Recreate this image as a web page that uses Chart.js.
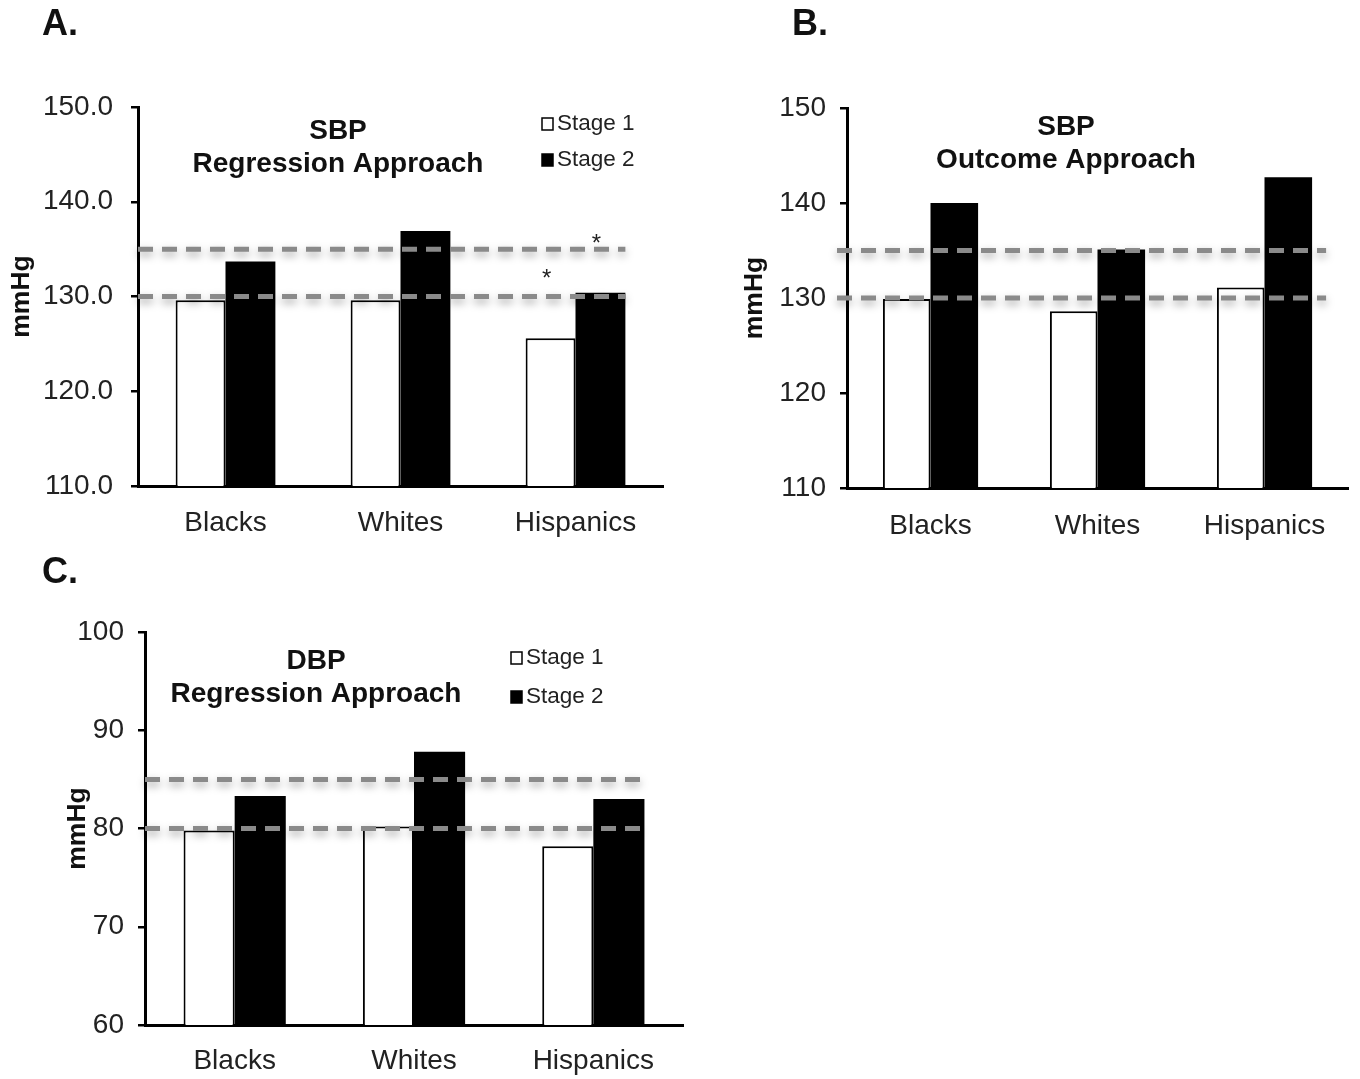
<!DOCTYPE html>
<html>
<head>
<meta charset="utf-8">
<title>Blood pressure by race and stage</title>
<script src="https://cdn.jsdelivr.net/npm/chart.js@4.4.1/dist/chart.umd.min.js"></script>
<style>
  body { margin: 0; background: #fff; }
  #page { position: relative; width: 1360px; height: 1079px; overflow: hidden; }
  canvas { position: absolute; }
</style>
</head>
<body>
<div id="page">
  <canvas id="panel-a" width="680" height="550" style="left:0;top:0"></canvas>
  <canvas id="panel-b" width="660" height="550" style="left:700px;top:0"></canvas>
  <canvas id="panel-c" width="700" height="529" style="left:0;top:550px"></canvas>
</div>
<script>
// Data
const categories = ["Blacks", "Whites", "Hispanics"]
const seriesNames = ["Stage 1", "Stage 2"]

const sbpRegressionStage1 = [129.6, 129.6, 125.6]
const sbpRegressionStage2 = [133.7, 136.9, 130.4]
const sbpRegressionStars1 = [null, null, 132.2]
const sbpRegressionStars2 = [null, null, 135.9]

const sbpOutcomeStage1 = [129.9, 128.6, 131.1]
const sbpOutcomeStage2 = [140.0, 135.1, 142.7]

const dbpRegressionStage1 = [79.8, 80.2, 78.2]
const dbpRegressionStage2 = [83.3, 87.8, 83.0]

const sbpTicks = [110, 120, 130, 140, 150]
const dbpTicks = [60, 70, 80, 90, 100]
const sbpThresholds = [130, 135]
const dbpThresholds = [80, 85]

const FONT = "'Liberation Sans', Arial, Helvetica, sans-serif"

// Draws the panel letter, title, legend, axis title, threshold lines and asterisks
const panelDecor = {
  id: "panelDecor",
  afterDatasetsDraw(chart, args, o) {
    const ctx = chart.ctx
    const area = chart.chartArea
    const y = chart.scales.y
    const barMeta = chart.getDatasetMeta(1)
    const lastBar = barMeta.data[barMeta.data.length - 1]
    const lineEnd = lastBar.x + lastBar.width / 2 + o.lineExtra

    // Dashed reference lines with a soft shadow
    ctx.save()
    ctx.strokeStyle = "#8a8a8a"
    ctx.lineWidth = 5
    ctx.setLineDash([15, 9])
    ctx.shadowColor = "rgba(0, 0, 0, 0.35)"
    ctx.shadowBlur = 8
    ctx.shadowOffsetY = 4
    o.thresholds.forEach((value) => {
      const py = y.getPixelForValue(value)
      ctx.beginPath()
      ctx.moveTo(area.left - o.lineStart, py)
      ctx.lineTo(lineEnd, py)
      ctx.stroke()
    })
    ctx.restore()

    // Asterisks above bars
    ctx.save()
    ctx.fillStyle = "#222"
    ctx.font = "24px " + FONT
    ctx.textAlign = "center"
    ctx.textBaseline = "middle"
    ;(o.stars || []).forEach((stars, dsIndex) => {
      const meta = chart.getDatasetMeta(dsIndex)
      stars.forEach((value, i) => {
        if (value === null) return
        ctx.fillText("*", meta.data[i].x - 4, y.getPixelForValue(value) + 4)
      })
    })
    ctx.restore()

    // Panel letter
    ctx.save()
    ctx.fillStyle = "#111"
    ctx.font = "bold 36px " + FONT
    ctx.textBaseline = "middle"
    ctx.textAlign = "left"
    ctx.fillText(o.letter, o.letterX, o.letterY)

    // Title lines
    ctx.font = "bold 28px " + FONT
    ctx.textAlign = "center"
    o.title.forEach((line, i) => {
      ctx.fillText(line, area.left + o.titleX, area.top + o.titleY + i * 33)
    })

    // Y axis title
    ctx.save()
    ctx.translate(o.yTitleX, (area.top + area.bottom) / 2)
    ctx.rotate(-Math.PI / 2)
    ctx.font = "bold 26.5px " + FONT
    ctx.fillText("mmHg", 0, 0)
    ctx.restore()

    // Legend
    if (o.legend) {
      ctx.font = "22.5px " + FONT
      ctx.textAlign = "left"
      seriesNames.forEach((name, i) => {
        const lx = area.left + o.legendX
        const ly = area.top + o.legendY + i * o.legendGap
        ctx.fillStyle = i === 0 ? "#fff" : "#000"
        ctx.strokeStyle = "#000"
        ctx.lineWidth = 1.5
        ctx.fillRect(lx, ly - 6, 11, 12)
        ctx.strokeRect(lx, ly - 6, 11, 12)
        ctx.fillStyle = "#222"
        ctx.fillText(name, lx + 15, ly)
      })
    }
    ctx.restore()
  },
}

// Build one bar panel
function createPanel(canvasId, stage1, stage2, ticks, decimals, cfg) {
  const ctx = document.getElementById(canvasId).getContext("2d")
  return new Chart(ctx, {
    type: "bar",
    data: {
      labels: categories,
      datasets: [
        {
          label: seriesNames[0],
          data: stage1,
          backgroundColor: "#fff",
          borderColor: "#000",
          borderWidth: 2,
          borderSkipped: "bottom",
        },
        {
          label: seriesNames[1],
          data: stage2,
          backgroundColor: "#000",
          borderColor: "#000",
          borderWidth: 0,
        },
      ],
    },
    options: {
      responsive: false,
      animation: false,
      categoryPercentage: 0.57,
      barPercentage: 1.0,
      layout: {
        padding: { left: 0, top: cfg.top, right: cfg.right, bottom: 0 },
      },
      plugins: {
        legend: { display: false },
        tooltip: { enabled: false },
        panelDecor: cfg.decor,
      },
      scales: {
        x: {
          grid: { display: false },
          border: { display: true, color: "#000", width: 3 },
          ticks: {
            color: "#222",
            font: { family: FONT, size: 28 },
            padding: cfg.xPad,
          },
          afterFit: (scale) => {
            scale.height = cfg.xHeight
          },
        },
        y: {
          min: ticks[0],
          max: ticks[ticks.length - 1],
          ticks: {
            stepSize: ticks[1] - ticks[0],
            color: "#222",
            font: { family: FONT, size: 28 },
            padding: cfg.yPad,
            callback: (value) => value.toFixed(decimals),
          },
          grid: {
            drawOnChartArea: false,
            drawTicks: true,
            tickLength: 7,
            color: "#000",
            lineWidth: 2.5,
          },
          border: { color: "#000", width: 3 },
          afterFit: (scale) => {
            scale.width = cfg.yWidth
          },
        },
      },
    },
    plugins: [panelDecor],
  })
}

// Initialize
createPanel("panel-a", sbpRegressionStage1, sbpRegressionStage2, sbpTicks, 1, {
  top: 107,
  right: 17,
  yWidth: 138,
  xHeight: 64,
  xPad: 12,
  yPad: 18,
  decor: {
    letter: "A.",
    letterX: 42,
    letterY: 25,
    title: ["SBP", "Regression Approach"],
    titleX: 200,
    titleY: 24,
    yTitleX: 22,
    legend: true,
    legendX: 404,
    legendY: 17,
    legendGap: 36,
    thresholds: sbpThresholds,
    lineStart: 0,
    lineExtra: 0,
    stars: [sbpRegressionStars1, sbpRegressionStars2],
  },
})

createPanel("panel-b", sbpOutcomeStage1, sbpOutcomeStage2, sbpTicks, 0, {
  top: 108,
  right: 12,
  yWidth: 147,
  xHeight: 62,
  xPad: 13,
  yPad: 14,
  decor: {
    letter: "B.",
    letterX: 92,
    letterY: 25,
    title: ["SBP", "Outcome Approach"],
    titleX: 219,
    titleY: 19,
    yTitleX: 55,
    legend: false,
    thresholds: sbpThresholds,
    lineStart: 10,
    lineExtra: 14,
    stars: [],
  },
})

createPanel("panel-c", dbpRegressionStage1, dbpRegressionStage2, dbpTicks, 0, {
  top: 82,
  right: 17,
  yWidth: 145,
  xHeight: 54,
  xPad: 11,
  yPad: 14,
  decor: {
    letter: "C.",
    letterX: 42,
    letterY: 23,
    title: ["DBP", "Regression Approach"],
    titleX: 171,
    titleY: 29,
    yTitleX: 78,
    legend: true,
    legendX: 366,
    legendY: 26,
    legendGap: 39,
    thresholds: dbpThresholds,
    lineStart: 0,
    lineExtra: 0,
    stars: [],
  },
})
</script>
</body>
</html>
